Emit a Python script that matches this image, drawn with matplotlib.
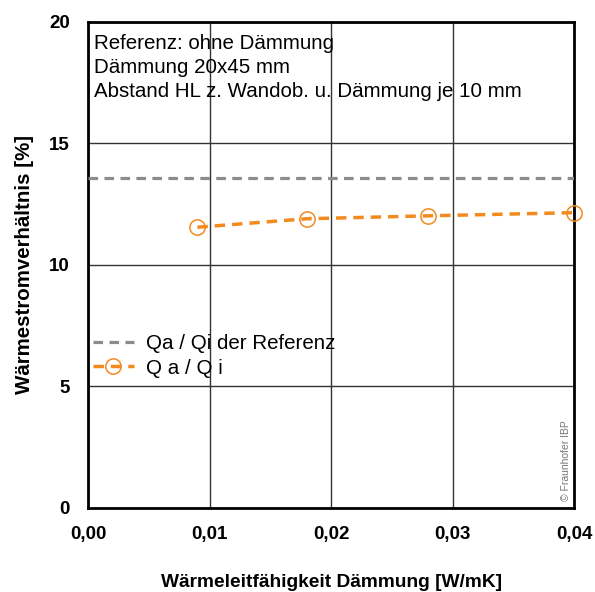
import matplotlib.pyplot as plt
from matplotlib.ticker import FuncFormatter

plt.rcParams['font.family'] = ['Liberation Sans', 'DejaVu Sans']

# Data
lam = [0.009, 0.018, 0.028, 0.040]
q_ratio = [11.55, 11.9, 12.02, 12.15]
ref_x = [0.0, 0.04]
ref_y = [13.58, 13.58]

x_ticks = [0.00, 0.01, 0.02, 0.03, 0.04]
y_ticks = [0, 5, 10, 15, 20]

fig = plt.figure(figsize=(5.95, 5.92), dpi=100)
ax = fig.add_axes([0.148, 0.142, 0.817, 0.821])

ax.plot(ref_x, ref_y, color='#8c8c8c', linestyle=(0, (3, 2)), linewidth=2.3,
        label='Qa / Qi der Referenz', zorder=3)
ax.plot(lam, q_ratio, color='#f28a1e', linestyle=(0, (3, 2)), linewidth=2.5,
        marker='o', markersize=11, markerfacecolor='none', markeredgecolor='#f28a1e',
        markeredgewidth=1.1, label='Q a / Q i', zorder=4, clip_on=False)

ax.set_xlim(0, 0.04)
ax.set_ylim(0, 20)
ax.set_xticks(x_ticks)
ax.set_yticks(y_ticks)
ax.xaxis.set_major_formatter(FuncFormatter(lambda v, p: f'{v:.2f}'.replace('.', ',')))
ax.tick_params(axis='y', length=0, labelsize=13.5, pad=13)
ax.tick_params(axis='x', length=0, labelsize=13.5, pad=13)
for lbl in ax.get_xticklabels() + ax.get_yticklabels():
    lbl.set_fontweight('bold')

ax.grid(True, color='#333333', linewidth=1)
ax.set_axisbelow(True)
for s in ax.spines.values():
    s.set_linewidth(2)
    s.set_color('black')

ax.set_xlabel('Wärmeleitfähigkeit Dämmung [W/mK]', fontsize=13.8, fontweight='bold', labelpad=22)
ax.set_ylabel('Wärmestromverhältnis [%]', fontsize=14.8, fontweight='bold', labelpad=11)

ax.text(0.012, 0.975, 'Referenz: ohne Dämmung\nDämmung 20x45 mm\nAbstand HL z. Wandob. u. Dämmung je 10 mm',
        transform=ax.transAxes, ha='left', va='top', fontsize=14.8, linespacing=1.33)

ax.legend(loc='upper left', bbox_to_anchor=(-0.027, 0.395), frameon=False, fontsize=14.8,
          handlelength=1.95, handletextpad=0.6, labelspacing=0.25)

ax.text(0.983, 0.015, '© Fraunhofer IBP', transform=ax.transAxes, rotation=90,
        ha='center', va='bottom', fontsize=7.5, color='#777777')

plt.savefig('out.png', dpi=100)
